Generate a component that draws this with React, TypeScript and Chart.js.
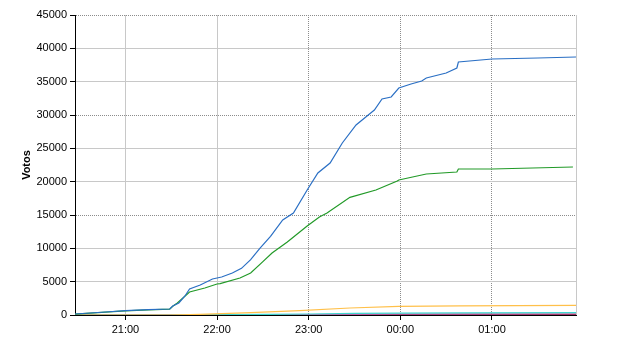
import React, { useEffect, useRef } from "react";
import { Chart, registerables } from "chart.js";

Chart.register(...registerables);

// Times (HH:MM) and vote counts
const blueTimes = ["20:27","20:37","20:47","21:00","21:15","21:29","21:31","21:35","21:39","21:42","21:49","21:57","22:00","22:03","22:10","22:16","22:22","22:28","22:35","22:43","22:50","22:59","23:06","23:14","23:22","23:31","23:39","23:43","23:48","23:54","23:59","00:07","00:14","00:17","00:30","00:37","00:38","01:00","01:30","01:55"];
const blueVotes = [150,300,450,650,800,900,1350,1800,2850,3900,4500,5400,5550,5700,6300,7000,8300,10000,11800,14250,15300,18750,21300,22800,25800,28500,30000,30750,32400,32700,34050,34650,35100,35550,36300,37050,37950,38400,38550,38700];

const greenTimes = ["20:27","20:37","20:47","21:00","21:15","21:29","21:31","21:34","21:42","21:52","22:00","22:02","22:15","22:22","22:30","22:36","22:46","22:59","23:07","23:12","23:27","23:44","23:58","23:59","00:08","00:17","00:37","00:38","01:00","01:53"];
const greenVotes = [120,280,430,620,780,880,1300,1800,3450,4050,4650,4700,5550,6300,8000,9300,10950,13350,14700,15300,17650,18750,20100,20250,20700,21150,21450,21900,21900,22200];

const orangeTimes = ["20:27","21:29","21:49","22:22","22:54","23:27","23:59","00:39","01:55"];
const orangeVotes = [0,0,100,350,650,1050,1300,1380,1450];

const smallTimes = ["20:27","21:30","22:30","23:00","23:30","00:00","00:40","01:55"];
const cyanVotes = [0,0,80,150,230,280,320,350];
const pinkVotes = [0,0,40,70,100,120,140,150];
const redVotes = [0,0,20,40,60,70,80,80];

const xTickTimes = ["21:00","22:00","23:00","00:00","01:00"];
const xMin = "20:27";
const xMax = "01:55";
const yMax = 45000;
const yStep = 5000;

function toMin(t: string): number {
  const [h, m] = t.split(":").map(Number);
  const hh = h < 12 ? h + 24 : h;
  return hh * 60 + m - 20 * 60;
}

function pts(times: string[], vals: number[]) {
  return times.map((t, i) => ({ x: toMin(t), y: vals[i] }));
}

const rightBorder = {
  id: "rightBorder",
  beforeDatasetsDraw(chart: any) {
    const { ctx, chartArea } = chart;
    ctx.save();
    ctx.strokeStyle = "#c8c8c8";
    ctx.lineWidth = 1;
    ctx.beginPath();
    const x = Math.round(chartArea.right) + 0.5;
    ctx.moveTo(x, chartArea.top);
    ctx.lineTo(x, chartArea.bottom);
    ctx.stroke();
    ctx.restore();
  },
};

export default function App() {
  const ref = useRef<HTMLCanvasElement>(null);
  useEffect(() => {
    const font = { family: "'Liberation Sans', Arial, sans-serif", size: 11 };
    const mk = (label: string, data: any[], color: string) => ({
      label,
      data,
      borderColor: color,
      backgroundColor: color,
      borderWidth: 1.2,
      pointRadius: 0,
      fill: false,
      tension: 0,
    });
    const chart = new Chart(ref.current as HTMLCanvasElement, {
      type: "line",
      data: {
        datasets: [
          mk("A", pts(blueTimes, blueVotes), "#2a6fc4"),
          mk("B", pts(greenTimes, greenVotes), "#229a28"),
          mk("C", pts(orangeTimes, orangeVotes), "#ffc04a"),
          mk("D", pts(smallTimes, cyanVotes), "#40d6d0"),
          mk("E", pts(smallTimes, pinkVotes), "#c060a8"),
          mk("F", pts(smallTimes, redVotes), "#8a0a2a"),
        ],
      },
      options: {
        animation: false,
        responsive: false,
        events: [],
        layout: { padding: { top: 15, right: 64, left: 0, bottom: 0 } },
        plugins: { legend: { display: false }, tooltip: { enabled: false } },
        scales: {
          x: {
            type: "linear",
            min: toMin(xMin),
            max: toMin(xMax),
            afterBuildTicks: (s: any) => {
              s.ticks = xTickTimes.map((t) => ({ value: toMin(t) }));
            },
            afterFit: (s: any) => {
              s.height = 35;
            },
            ticks: {
              color: "#000",
              font,
              padding: 3,
              maxRotation: 0,
              autoSkip: false,
              callback: (v: any) => {
                const i = xTickTimes.findIndex((t) => toMin(t) === v);
                return i >= 0 ? xTickTimes[i] : "";
              },
            },
            grid: {
              color: (c: any) => (c.tick && c.tick.value >= toMin("23:00") ? "#8c8c8c" : "#c8c8c8"),
              tickColor: "#000",
              tickLength: 5,
              lineWidth: 1,
            },
            border: {
              color: "#000",
              width: 1,
              dash: (c: any) => (c.tick && c.tick.value >= toMin("23:00") ? [1, 1] : []),
            },
          },
          y: {
            type: "linear",
            min: 0,
            max: yMax,
            afterFit: (s: any) => {
              s.width = 75;
            },
            title: {
              display: true,
              text: "Votos",
              color: "#000",
              font: { ...font, weight: "bold" },
              padding: { top: 20, bottom: 0 },
            },
            ticks: {
              stepSize: yStep,
              color: "#000",
              font,
              padding: 3,
              callback: (v: any) => String(v),
            },
            grid: {
              color: (c: any) =>
                c.tick && c.tick.value > 0 && c.tick.value % 15000 === 0 ? "#8c8c8c" : "#c8c8c8",
              tickColor: "#000",
              tickLength: 5,
              lineWidth: 1,
            },
            border: {
              color: "#000",
              width: 1,
              dash: (c: any) =>
                c.tick && c.tick.value > 0 && c.tick.value % 15000 === 0 ? [1, 1] : [],
            },
          },
        },
      },
      plugins: [rightBorder],
    } as any);
    return () => chart.destroy();
  }, []);
  return (
    <div style={{ position: "fixed", left: 0, top: 0, width: 640, height: 350, background: "#fff" }}>
      <canvas ref={ref} width={640} height={350} />
    </div>
  );
}
